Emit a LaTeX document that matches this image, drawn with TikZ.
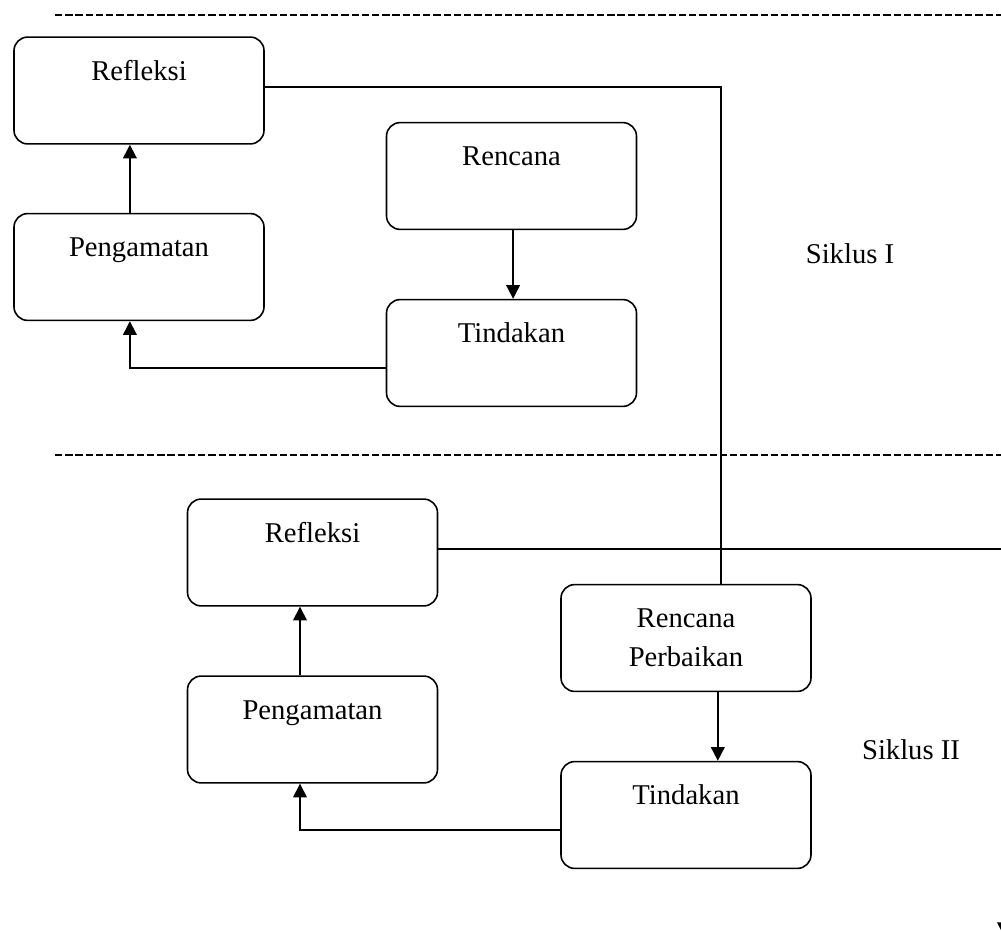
\documentclass[tikz,border=0pt]{standalone}
\usepackage{fontspec}
\setmainfont{Liberation Serif}
\usetikzlibrary{arrows.meta}

\begin{document}
\begin{tikzpicture}[x=0.44pt, y=-0.44pt, font=\fontsize{12.6}{17}\selectfont,
  stage/.style={draw, line width=0.7pt, rounded corners=6pt, text width=110pt, align=center, inner sep=0pt, text height=19pt, text depth=28pt},
  flow/.style={line width=0.7pt, -{Triangle[width=6pt,length=6pt]}},
  cut line/.style={line width=1.1pt, dash pattern=on 3.2pt off 1.3pt}]

\useasboundingbox (0,0) rectangle (1001,933);
\clip (0,0) rectangle (1001,933);

\coordinate (c1) at (55,15);
\coordinate (c2) at (1001,15);
\coordinate (c3) at (55,455);
\coordinate (c4) at (1001,455);
\coordinate (down) at (1004,936);

\draw[cut line] (c1) -- (c2);
\draw[cut line] (c3) -- (c4);

% siklus I
\node[stage] (refl1) at (139,90.5) {Refleksi};
\node[stage] (peng1) at (139,267) {Pengamatan};
\node[stage] (renc1) at (511.5,176) {Rencana};
\node[stage] (tind1) at (511.5,353) {Tindakan};
\node[anchor=base] (sik1) at (850,263) {Siklus I};

% siklus II
\node[stage] (refl2) at (312.5,552.5) {Refleksi};
\node[stage] (peng2) at (312.5,729.5) {Pengamatan};
\node[stage] (renc2) at (686,638) {Rencana\\Perbaikan};
\node[stage] (tind2) at (686,815) {Tindakan};
\node[anchor=base] (sik2) at (911,759) {Siklus II};

\draw[flow] ([xshift=0.7pt]renc1.south) -- ([xshift=0.7pt]tind1.north);
\draw[flow] ([yshift=-6.6pt]tind1.west) -| ([xshift=-4pt]peng1.south);
\draw[flow] ([xshift=-4pt]peng1.north) -- ([xshift=-4pt]refl1.south);
\draw[line width=0.7pt] ([yshift=1.5pt]refl1.east) -| ([xshift=15.5pt]renc2.north);

\draw[flow] ([xshift=14pt]renc2.south) -- ([xshift=14pt]tind2.north);
\draw[flow] ([yshift=-6.6pt]tind2.west) -| ([xshift=-5.5pt]peng2.south);
\draw[flow] ([xshift=-5.5pt]peng2.north) -- ([xshift=-5.5pt]refl2.south);
\draw[flow] ([yshift=1.5pt]refl2.east) -| (down);

\end{tikzpicture}
\end{document}
